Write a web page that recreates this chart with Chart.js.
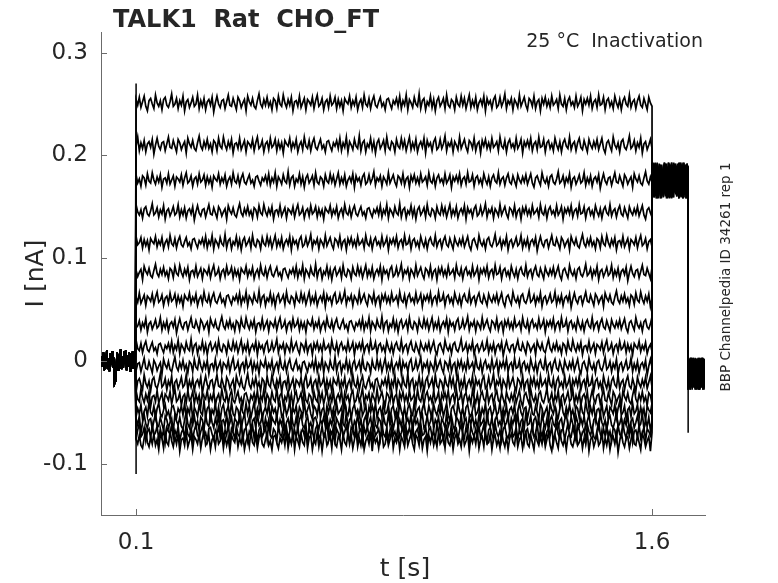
<!DOCTYPE html>
<html>
<head>
<meta charset="utf-8">
<script src="https://cdn.jsdelivr.net/npm/chart.js@4.4.0/dist/chart.umd.min.js"></script>
<style>
  html, body { margin: 0; background: #fff; }
  canvas { display: block; }
</style>
</head>
<body>
<canvas id="traces" width="778" height="583"></canvas>
<script>
const plotTitle = "TALK1  Rat  CHO_FT";
const conditionLabel = "25 °C  Inactivation";
const sideNote = "BBP Channelpedia ID 34261 rep 1";

const yTicks = [-0.1, 0, 0.1, 0.2, 0.3];
const xTicks = [0.1, 1.6];

// protocol timing (s)
const stepStart = 0.1;
const stepEnd = 1.6;
const tailEnd = 1.705;
const sweepEnd = 1.754;

// mean current of each sweep during the step (nA), top to bottom
const stepLevels = [0.251, 0.210, 0.176, 0.145, 0.115, 0.086, 0.060, 0.035, 0.013, -0.005, -0.022, -0.036, -0.049, -0.060, -0.070, -0.078];
const noiseGain = [1.1, 1.1, 1, 1, 1, 1, 1, 1, 1, 1.1, 1.2, 1.2, 1.3, 1.3, 1.3, 1.4];
const noiseShift = [0, 37, 81, 12, 120, 64, 99, 23, 141, 52, 7, 88, 133, 45, 110, 70];

const tailLevel = 0.174;
const holdLevel = -0.012;
const onsetPeaks = [0.27, -0.11];
const offsetPeaks = [0.19, -0.07];

// recorded noise (pA = 0.001 nA)
const stepNoise = [
  3, -2, 5, -4, 1, 6, -3, -7, 2, 4, -1, -5, 7, 0, -3, 2, -6, 3, 5, -2,
  -4, 1, 8, -3, -1, 4, -5, 2, -2, 6, -7, 1, 3, -4, 0, 5, -3, -1, 7, -5,
  2, -3, 4, -6, 1, 3, -2, 5, -8, 0, 6, -1, -4, 2, 3, -5, 1, 7, -2, -3,
  4, -1, -6, 5, 2, -4, 0, 3, -7, 6, 1, -2, 4, -3, -5, 2, 8, -1, -4, 3,
  -2, 5, -3, 1, -6, 4, 2, -5, 6, -1, -3, 7, 0, -4, 3, -2, 5, -7, 1, 2,
  -3, 6, -4, 0, 4, -6, 3, 1, -2, 5, -5, 2, 7, -3, -1, 4, -6, 1, 3, -4,
  6, -2, 0, 5, -5, 3, -3, 2, -7, 4, 1, -1, 6, -4, 2, -2, 5, -6, 0, 3,
  -4, 7, -1, -3, 4, -5, 2, 6, -2, -4, 1, 5, -3, 0, -6, 3, 4, -1, -5, 2,
  -1, 4, -3, 6, -5, 2, -2, 7, -6, 3, 0, -4, 5, -1, -3, 8, -5, 2, 4, -6,
  1, -2, 6, -4, 3, -7, 2, 5, -3, 0, 4, -5, 7, -2, -4, 3, 1, -6, 5, -1,
  -3, 6, -2, 4, -5, 1, 7, -4, 2, -3, 5, -6, 0, 3, -2, 6, -7, 4, -1, 2,
  -5, 3, 6, -4, -2, 5, -3, 1, 8, -5, 2, -1, 4, -6, 3, 0, -4, 7, -3, 1,
  5, -2, -6, 4, 2, -3, 6, -5, 1, 3, -7, 4, -1, 5, -3, 2, -4, 6, -2, 0,
  3, -5, 7, -1, -3, 4, -6, 2, 5, -2, 1, -4, 6, -3, 0, 5, -7, 3, -1, 4,
  -2, 6, -5, 1, 3, -4, 7, -2, -1, 5, -6, 2, 4, -3, 1, -5, 6, 0, -4, 3,
  -6, 2, 5, -1, -3, 7, -4, 1, 3, -5, 2, 6, -2, -4, 4, -1, -6, 5, 0, -3
];
const preNoise = [
  4, -6, 8, -9, 5, -3, 10, -8, 2, -10, 7, -4, 9, -7, 3, -22, -20, -6, 8, -9,
  6, -5, 11, -8, 4, -7, 9, -3, 10, -9, 5, -6, 8, -10, 7, -4, 9, -8, 6, -5
];
const tailNoise = [
  -14, 6, -9, 15, -4, 11, -16, 8, -2, 17, -11, 4, 13, -7, 18, -12, 2, 9, -15, 12,
  -5, 16, -10, 3, 14, -8, 7, -13, 19, -3, 10, -6, 15, -9, 5, -1
];
const holdNoise = [
  -4, 12, -10, 8, -14, 3, 14, -8, 6, -16, 10, -2, 15, -12, 4, -6, 11, -9
];

function buildSweep(k) {
  const pts = [];
  preNoise.forEach((n, i) => {
    pts.push({ x: (stepStart * i) / preNoise.length, y: n / 1000 });
  });
  const stepDur = stepEnd - stepStart;
  stepNoise.forEach((_, i) => {
    const n = stepNoise[(i + noiseShift[k]) % stepNoise.length];
    pts.push({
      x: stepStart + (stepDur * i) / (stepNoise.length - 1),
      y: stepLevels[k] + (n * noiseGain[k]) / 1000,
    });
  });
  const tailDur = tailEnd - stepEnd;
  tailNoise.forEach((_, i) => {
    const n = tailNoise[(i + noiseShift[k]) % tailNoise.length];
    pts.push({ x: stepEnd + (tailDur * i) / (tailNoise.length - 1), y: tailLevel + n / 1000 });
  });
  const holdDur = sweepEnd - tailEnd;
  holdNoise.forEach((_, i) => {
    const n = holdNoise[(i + noiseShift[k]) % holdNoise.length];
    pts.push({ x: tailEnd + (holdDur * i) / (holdNoise.length - 1), y: holdLevel + n / 1000 });
  });
  return pts;
}

const datasets = stepLevels.map((_, k) => ({
  data: buildSweep(k),
  borderColor: "#000",
  borderWidth: 1.7,
  pointRadius: 0,
  tension: 0,
}));
datasets.push({
  data: onsetPeaks.map((v) => ({ x: stepStart, y: v })),
  borderColor: "#000",
  borderWidth: 1.5,
  pointRadius: 0,
});
datasets.push({
  data: offsetPeaks.map((v) => ({ x: tailEnd, y: v })),
  borderColor: "#000",
  borderWidth: 1.5,
  pointRadius: 0,
});

const axisColor = "#6b6b6b";
const textColor = "#262626";
const fontFamily = "'DejaVu Sans', sans-serif";

const decorations = {
  id: "decorations",
  afterDraw(chart) {
    const { ctx, chartArea } = chart;
    const xs = chart.scales.x;
    const ys = chart.scales.y;
    ctx.save();
    ctx.strokeStyle = axisColor;
    ctx.lineWidth = 1;
    // inward tick marks
    ctx.beginPath();
    xTicks.forEach((v) => {
      const px = Math.round(xs.getPixelForValue(v)) + 0.5;
      ctx.moveTo(px, chartArea.bottom);
      ctx.lineTo(px, chartArea.bottom - 6);
    });
    yTicks.forEach((v) => {
      const py = Math.round(ys.getPixelForValue(v)) + 0.5;
      ctx.moveTo(chartArea.left, py);
      ctx.lineTo(chartArea.left + 6, py);
    });
    ctx.stroke();

    ctx.fillStyle = textColor;
    ctx.font = "bold 24px " + fontFamily;
    ctx.textAlign = "left";
    ctx.textBaseline = "alphabetic";
    ctx.fillText(plotTitle, 113, 27);

    ctx.font = "19px " + fontFamily;
    ctx.textAlign = "right";
    ctx.fillText(conditionLabel, 703, 47);

    ctx.font = "25px " + fontFamily;
    ctx.textAlign = "center";
    ctx.fillText("t [s]", (chartArea.left + chartArea.right) / 2 + 2, 576);

    ctx.save();
    ctx.translate(43, (chartArea.top + chartArea.bottom) / 2);
    ctx.rotate(-Math.PI / 2);
    ctx.fillText("I [nA]", 0, 0);
    ctx.restore();

    ctx.save();
    ctx.font = "13.5px " + fontFamily;
    ctx.translate(730, 277);
    ctx.rotate(-Math.PI / 2);
    ctx.textAlign = "center";
    ctx.fillText(sideNote, 0, 0);
    ctx.restore();

    ctx.restore();
  },
};

new Chart(document.getElementById("traces"), {
  type: "line",
  data: { datasets },
  options: {
    responsive: false,
    animation: false,
    events: [],
    layout: { padding: { left: 0, right: 73, top: 32, bottom: 0 } },
    plugins: { legend: { display: false }, tooltip: { enabled: false } },
    scales: {
      x: {
        type: "linear",
        min: -0.002,
        max: sweepEnd,
        afterFit: (s) => { s.height = 68; },
        afterBuildTicks: (s) => { s.ticks = xTicks.map((v) => ({ value: v })); },
        grid: { display: false, drawTicks: false },
        border: { display: true, color: axisColor, width: 1 },
        ticks: {
          color: textColor,
          font: { family: fontFamily, size: 23 },
          padding: 14,
          maxRotation: 0,
          callback: (v) => String(v),
        },
      },
      y: {
        type: "linear",
        min: -0.15,
        max: 0.32,
        afterFit: (s) => { s.width = 101; },
        afterBuildTicks: (s) => { s.ticks = yTicks.map((v) => ({ value: v })); },
        grid: { display: false, drawTicks: false },
        border: { display: true, color: axisColor, width: 1 },
        ticks: {
          color: textColor,
          font: { family: fontFamily, size: 23 },
          padding: 13,
          callback: (v) => (v === 0 ? "0" : String(v)),
        },
      },
    },
  },
  plugins: [decorations],
});
</script>
</body>
</html>
